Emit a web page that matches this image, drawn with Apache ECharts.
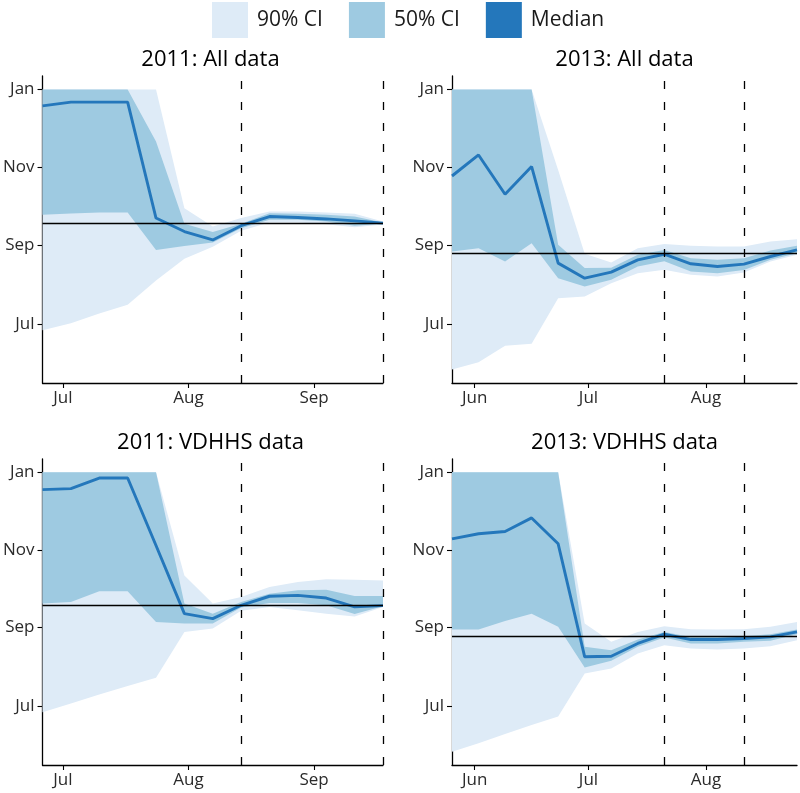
<!DOCTYPE html>
<html>
<head>
<meta charset="utf-8">
<title>Peak date estimates</title>
<script src="https://cdn.jsdelivr.net/npm/echarts@6/dist/echarts.min.js"></script>
<style>
  html, body { margin: 0; padding: 0; background: #fff; }
  #chart { width: 800px; height: 793px; }
</style>
</head>
<body>
<div id="chart"></div>
<script>
// x: weekly forecast dates; y: estimated peak date as day of year (Jan 1 = 0, 365 = next Jan 1)
var dates2011 = ['2011-06-26', '2011-07-03', '2011-07-10', '2011-07-17', '2011-07-24', '2011-07-31', '2011-08-07',
                 '2011-08-14', '2011-08-21', '2011-08-28', '2011-09-04', '2011-09-11', '2011-09-18'];
var dates2013 = ['2013-05-26', '2013-06-02', '2013-06-09', '2013-06-16', '2013-06-23', '2013-06-30', '2013-07-07',
                 '2013-07-14', '2013-07-21', '2013-07-28', '2013-08-04', '2013-08-11', '2013-08-18', '2013-08-25'];

var xTicks2011 = ['2011-07-01', '2011-08-01', '2011-09-01'];
var xTicks2013 = ['2013-06-01', '2013-07-01', '2013-08-01'];
var yTicks = [181, 243, 304, 365];          // Jul 1, Sep 1, Nov 1, Jan 1

var truePeak2011 = '2011-09-18';
var truePeak2013 = '2013-08-25';
var cuts2011 = ['2011-08-14', '2011-09-18'];
var cuts2013 = ['2013-07-21', '2013-08-11'];

var panelTitles = ['2011: All data', '2013: All data', '2011: VDHHS data', '2013: VDHHS data'];
var legendNames = ['90% CI', '50% CI', 'Median'];

// 2011: All data
var all2011Median = [352, 355, 355, 355, 264, 253.4, 246.8, 258, 265.2, 264.4, 263.3, 261.8, 260];
var all2011Hi50 = [365, 365, 365, 365, 324, 259.5, 253, 259.5, 267.8, 267.3, 266.5, 265.2, 260.5];
var all2011Lo50 = [266.5, 267.5, 268.3, 268.3, 239, 242, 244.8, 256, 262.6, 262.6, 261.3, 258, 259.5];
var all2011Hi90 = [365, 365, 365, 365, 365, 271.7, 257.3, 264, 269.1, 269.1, 268.3, 267.3, 261.2];
var all2011Lo90 = [176, 181.5, 189, 196, 215, 232, 241.5, 254, 260.5, 260.5, 259.2, 256.8, 259];

// 2013: All data
var all2013Median = [297, 313.5, 282.7, 304.4, 228.6, 216.8, 221.5, 231.2, 235.6, 228.1, 226, 227.8, 233.8, 239];
var all2013Hi50 = [365, 365, 365, 365, 243, 224.7, 225, 235.1, 239, 232.5, 231.2, 232.5, 238.5, 242.2];
var all2013Lo50 = [237.7, 240.3, 229.9, 244.3, 216.8, 210.3, 215.5, 226, 230, 222, 220.7, 223.3, 231.2, 236.4];
var all2013Hi90 = [365, 365, 365, 365, 301.7, 236, 229, 240.3, 243.7, 242.2, 241.6, 241.6, 245.6, 247.4];
var all2013Lo90 = [145, 150.7, 163.8, 165.3, 201, 202.4, 212.9, 220.7, 223.4, 219.4, 218.1, 221.3, 229.9, 235.1];

// 2011: VDHHS data
var vdhhs2011Median = [351.4, 352.2, 360.5, 360.5, 307.4, 253.7, 249.8, 260.3, 267.4, 268.1, 266, 259, 260];
var vdhhs2011Hi50 = [365, 365, 365, 365, 365, 261.6, 253.7, 262.9, 269.4, 272.1, 272.6, 267.6, 267.6];
var vdhhs2011Lo50 = [261.6, 262.9, 271.3, 271.3, 247.2, 245.9, 245.9, 258.5, 262.1, 262.1, 260.3, 253.5, 259.5];
var vdhhs2011Hi90 = [365, 365, 365, 365, 365, 283.8, 261.6, 266.8, 274.7, 278.6, 280.7, 280.4, 279.9];
var vdhhs2011Lo90 = [176, 183, 190.1, 196.7, 203.2, 239.3, 242, 256, 259, 256.4, 253.7, 251.5, 259];

// 2013: VDHHS data
var vdhhs2013Median = [312.6, 316.6, 318.4, 329.1, 308.7, 219.7, 220.2, 230.2, 237.5, 233.3, 233.3, 234.1, 235.4, 239.3];
var vdhhs2013Hi50 = [365, 365, 365, 365, 365, 227.6, 224.9, 233.3, 239.3, 235.4, 235.4, 235.9, 237.5, 241.2];
var vdhhs2013Lo50 = [241.2, 241.2, 248, 253.7, 243.3, 211.3, 216.6, 227.6, 234.9, 230.2, 230.2, 231.5, 232.3, 237.5];
var vdhhs2013Hi90 = [365, 365, 365, 365, 365, 245.9, 231.5, 239.3, 243.8, 241.4, 241.2, 241.4, 243.3, 247.2];
var vdhhs2013Lo90 = [145, 151.7, 159, 166, 172.6, 206.6, 210.5, 222.3, 228.9, 226.3, 225.5, 226.3, 228.1, 232.8];

var C90 = '#deebf7', C50 = '#9ecae1', CMED = '#2477bb';
var FONT = 'Open Sans';
var MONTHS = ['Jan', 'Feb', 'Mar', 'Apr', 'May', 'Jun', 'Jul', 'Aug', 'Sep', 'Oct', 'Nov', 'Dec'];

function dayOfYear(s) {
    var d = new Date(s + 'T00:00:00Z');
    return Math.round((d.getTime() - Date.UTC(d.getUTCFullYear(), 0, 1)) / 86400000);
}
function monthName(v) {
    return MONTHS[new Date(Date.UTC(2011, 0, 1 + Math.round(v))).getUTCMonth()];
}

var panels = [
    {dates: dates2011, ticks: xTicks2011, truth: truePeak2011, cuts: cuts2011,
     med: all2011Median, lo50: all2011Lo50, hi50: all2011Hi50, lo90: all2011Lo90, hi90: all2011Hi90},
    {dates: dates2013, ticks: xTicks2013, truth: truePeak2013, cuts: cuts2013,
     med: all2013Median, lo50: all2013Lo50, hi50: all2013Hi50, lo90: all2013Lo90, hi90: all2013Hi90},
    {dates: dates2011, ticks: xTicks2011, truth: truePeak2011, cuts: cuts2011,
     med: vdhhs2011Median, lo50: vdhhs2011Lo50, hi50: vdhhs2011Hi50, lo90: vdhhs2011Lo90, hi90: vdhhs2011Hi90},
    {dates: dates2013, ticks: xTicks2013, truth: truePeak2013, cuts: cuts2013,
     med: vdhhs2013Median, lo50: vdhhs2013Lo50, hi50: vdhhs2013Hi50, lo90: vdhhs2013Lo90, hi90: vdhhs2013Hi90}
];

// plot boxes in pixels
var layout = [
    {left: 38, top: 76, height: 307},
    {left: 452, top: 76, height: 307},
    {left: 38, top: 459, height: 306},
    {left: 452, top: 459, height: 306}
];
var plotWidth = 345;

// draws one polygon between lower (dim 1) and upper (dim 2) bounds
function bandRenderer(params, api) {
    if (params.dataIndexInside !== 0) return null;
    var n = params.dataInsideLength;
    var upper = [], lower = [];
    for (var j = 0; j < n; j++) {
        var x = api.value(0, j);
        upper.push(api.coord([x, api.value(2, j)]));
        lower.unshift(api.coord([x, api.value(1, j)]));
    }
    return {type: 'polygon', shape: {points: upper.concat(lower)}, style: {fill: api.visual('color')}};
}

var grids = [], xAxes = [], yAxes = [], titles = [], series = [];

panels.forEach(function (p, k) {
    var xs = p.dates.map(dayOfYear);
    var L = layout[k];

    grids.push({left: L.left, top: L.top, width: plotWidth, height: L.height});

    titles.push({
        text: panelTitles[k],
        left: L.left + plotWidth / 2,
        top: L.top - 27,
        textAlign: 'center',
        padding: 0,
        textStyle: {fontFamily: FONT, fontSize: 22, fontWeight: 'normal', color: '#000'}
    });

    xAxes.push({
        type: 'value', gridIndex: k,
        min: xs[0], max: xs[xs.length - 1],
        axisLine: {show: true, onZero: false, lineStyle: {color: '#000', width: 1.3}},
        axisTick: {show: true, length: 5, customValues: p.ticks.map(dayOfYear), lineStyle: {color: '#000', width: 1.1}},
        axisLabel: {customValues: p.ticks.map(dayOfYear), formatter: monthName, margin: 7,
                    fontFamily: FONT, fontSize: 17, color: '#2b2b2b'},
        splitLine: {show: false}
    });

    yAxes.push({
        type: 'value', gridIndex: k,
        min: 134.5, max: 375.5,
        axisLine: {show: true, onZero: false, lineStyle: {color: '#000', width: 1.3}},
        axisTick: {show: true, length: 5, customValues: yTicks, lineStyle: {color: '#000', width: 1.1}},
        axisLabel: {customValues: yTicks, formatter: monthName, margin: 8,
                    fontFamily: FONT, fontSize: 17, color: '#2b2b2b'},
        splitLine: {show: false}
    });

    function bandData(lo, hi) {
        return xs.map(function (x, i) { return [x, lo[i], hi[i]]; });
    }

    series.push({
        name: '90% CI', type: 'custom', xAxisIndex: k, yAxisIndex: k,
        renderItem: bandRenderer, itemStyle: {color: C90}, silent: true,
        encode: {x: 0, y: [1, 2]},
        data: bandData(p.lo90, p.hi90)
    });
    series.push({
        name: '50% CI', type: 'custom', xAxisIndex: k, yAxisIndex: k,
        renderItem: bandRenderer, itemStyle: {color: C50}, silent: true,
        encode: {x: 0, y: [1, 2]},
        data: bandData(p.lo50, p.hi50)
    });
    series.push({
        name: 'Median', type: 'line', xAxisIndex: k, yAxisIndex: k,
        symbol: 'none', silent: true,
        itemStyle: {color: CMED},
        lineStyle: {color: CMED, width: 2.9},
        data: xs.map(function (x, i) { return [x, p.med[i]]; }),
        markLine: {
            silent: true,
            symbol: ['none', 'none'],
            label: {show: false},
            emphasis: {disabled: true},
            data: [
                {yAxis: dayOfYear(p.truth), lineStyle: {color: '#000', width: 1.3, type: 'solid'}},
                {xAxis: dayOfYear(p.cuts[0]), lineStyle: {color: '#000', width: 1.3, type: [8, 13]}},
                {xAxis: dayOfYear(p.cuts[1]), lineStyle: {color: '#000', width: 1.3, type: [8, 13]}}
            ]
        }
    });
});

var myChart = echarts.init(document.getElementById('chart'));
var option = {
    animation: false,
    backgroundColor: '#fff',
    title: titles,
    legend: {
        data: legendNames,
        left: 212, top: 2,
        padding: 0,
        icon: 'rect',
        itemWidth: 36, itemHeight: 36, itemGap: 26,
        itemStyle: {borderWidth: 0},
        selectedMode: false,
        textStyle: {fontFamily: FONT, fontSize: 21, color: '#1a1a1a', padding: [0, 0, 0, 4]}
    },
    grid: grids,
    xAxis: xAxes,
    yAxis: yAxes,
    series: series
};
myChart.setOption(option);
</script>
</body>
</html>
